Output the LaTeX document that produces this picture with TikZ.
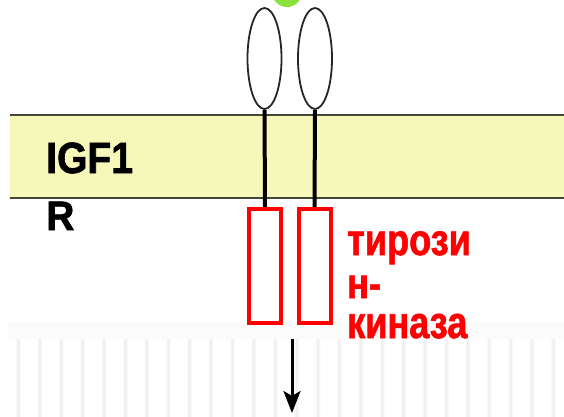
\documentclass[tikz,border=0pt]{standalone}
\usepackage{fontspec}
\setmainfont{Liberation Sans}
\newfontfamily\heavyfont{Liberation Sans Bold}[FakeBold=1.6]
\usetikzlibrary{arrows.meta,shapes.geometric}
\definecolor{membrane}{RGB}{246,248,186}
\definecolor{rim}{RGB}{70,70,55}
\definecolor{ligand}{RGB}{140,226,60}
\definecolor{kinred}{RGB}{255,0,0}
\definecolor{stripe}{RGB}{238,238,238}
\tikzset{
  ecloop/.style={draw=black!85, line width=1.8pt, ellipse, minimum width=34pt, minimum height=101pt, inner sep=0pt},
  kinbox/.style={draw=kinred, line width=4pt, rectangle, minimum width=32pt, minimum height=114pt, inner sep=0pt},
  stem/.style={line width=4pt, black},
  bigtext/.style={inner sep=0pt, anchor=base west, font=\heavyfont\fontsize{42}{43}\selectfont},
  redtext/.style={bigtext, text=kinred},
  signal/.style={line width=3pt, -{Stealth[length=22pt, width=17pt, inset=5pt]}}
}
\newcommand{\narrowline}[2][1.05]{\scalebox{0.86}[#1]{#2}}
\begin{document}
\begin{tikzpicture}[x=1pt, y=-1pt]
  \useasboundingbox (0,0) rectangle (564,416);
  \fill[white] (0,0) rectangle (564,416);
  % cytoplasm background with soft vertical stripes
  \fill[black!1.5] (8,322) rectangle (564,339);
  \foreach \i in {0,...,25}
    \shade[left color=white, right color=white, middle color=stripe]
      ({18+21.4*\i-3},339) rectangle ({18+21.4*\i+3},416);
  % lipid bilayer
  \fill[membrane] (10,115) rectangle (564,198);
  \draw[rim, line width=2pt] (10,115) -- (564,115);
  \draw[rim, line width=2pt] (10,198) -- (564,198);
  % bound ligand
  \begin{scope}
    \clip (0,0) rectangle (564,416);
    \fill[ligand] (287,-8) circle (15);
  \end{scope}
  % extracellular domains
  \node[ecloop] (ecl) at (264.5,58.5) {};
  \node[ecloop] (ecr) at (315,58.5) {};
  % kinase domains
  \node[kinbox] (kl) at (265,266) {};
  \node[kinbox] (kr) at (314.5,266) {};
  % transmembrane stems
  \draw[stem] (ecl.south) -- (kl.north);
  \draw[stem] (ecr.south) -- (kr.north);
  % downstream signal
  \coordinate (sigtop) at (292,339);
  \coordinate (sigend) at (292,413);
  \draw[signal] (sigtop) -- (sigend);
  % labels
  \node[bigtext] (lblA) at (46,173) {\scalebox{0.93}[1.04]{IGF1}};
  \node[bigtext] (lblB) at (46,230) {\scalebox{0.93}[0.98]{R}};
  \node[redtext] (tk) at (347,255)
    {\begin{tabular}[t]{@{}l@{}}\narrowline{тирози}\\\narrowline[1.0]{н-}\\[-3pt]\narrowline[1.07]{киназа}\end{tabular}};
\end{tikzpicture}
\end{document}
